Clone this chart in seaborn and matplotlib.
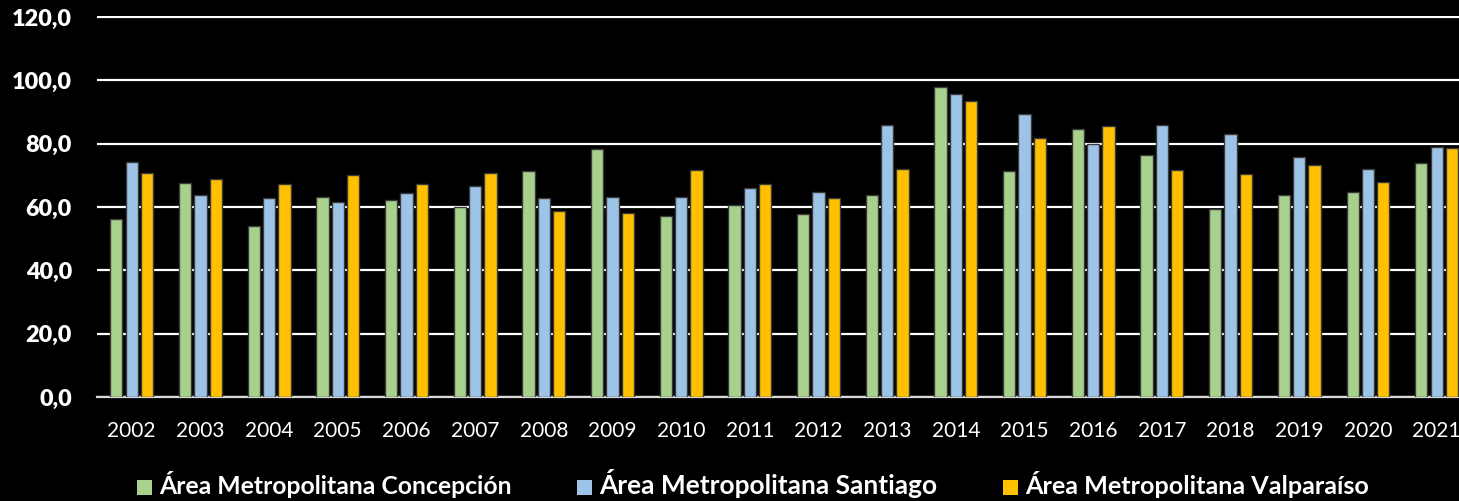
#!/usr/bin/env python3
"""
Bar chart: indicator by metropolitan area, 2002-2021
"""

import pandas as pd
import matplotlib
matplotlib.use('Agg')
import matplotlib.pyplot as plt
from matplotlib.patches import Patch
from matplotlib.ticker import FuncFormatter, MultipleLocator
import seaborn as sns

years = [str(y) for y in range(2002, 2022)]

concepcion = [56.2, 67.5, 54.0, 63.3, 62.3, 60.0, 71.4, 78.4, 57.0, 60.6,
              57.7, 63.7, 97.9, 71.4, 84.5, 76.4, 59.4, 63.9, 64.7, 74.0]
santiago = [74.2, 63.9, 62.9, 61.5, 64.3, 66.7, 62.9, 63.3, 63.3, 66.1,
            64.8, 86.0, 95.8, 89.4, 80.0, 85.9, 83.2, 75.8, 71.9, 78.8]
valparaiso = [70.7, 68.7, 67.4, 70.2, 67.2, 70.7, 58.8, 58.0, 71.6, 67.2,
              62.7, 71.9, 93.6, 81.7, 85.5, 71.6, 70.3, 73.4, 67.9, 78.6]

series_names = ['Área Metropolitana Concepción',
                'Área Metropolitana Santiago',
                'Área Metropolitana Valparaíso']
colors = ['#A9D18E', '#9DC3E6', '#FFC000']

df = pd.DataFrame({
    'year': years * 3,
    'value': concepcion + santiago + valparaiso,
    'area': [series_names[0]] * 20 + [series_names[1]] * 20 + [series_names[2]] * 20,
})

sns.set_style('dark')
plt.rcParams['font.family'] = ['Lato', 'DejaVu Sans']

fig = plt.figure(figsize=(14.59, 5.01), dpi=100, facecolor='black')
ax = fig.add_axes([97 / 1459, 104 / 501, 1374 / 1459, 381.3 / 501])
ax.set_facecolor('black')

sns.barplot(data=df, x='year', y='value', hue='area', hue_order=series_names,
            palette=colors, saturation=1, width=0.67, gap=0.2,
            edgecolor='#3a3a3a', linewidth=1, legend=False, ax=ax, zorder=3)

ax.set_xlim(-0.505, 19.5)
ax.set_ylim(0, 120.4)
ax.yaxis.set_major_locator(MultipleLocator(20))
ax.yaxis.set_major_formatter(FuncFormatter(lambda v, p: f"{v:.1f}".replace('.', ',')))

ax.grid(axis='y', color='white', linewidth=1.6, zorder=0)
ax.grid(axis='x', visible=False)
ax.set_axisbelow(True)
for side in ['top', 'right', 'left']:
    ax.spines[side].set_visible(False)
ax.spines['bottom'].set_color('#d9d9d9')
ax.spines['bottom'].set_linewidth(1.6)

ax.tick_params(axis='x', colors='white', labelsize=15, length=0, pad=17)
ax.tick_params(axis='y', colors='white', labelsize=16.8, length=0, pad=18)
ax.set_xlabel('')
ax.set_ylabel('')

fig.canvas.draw()
for lbl in ax.get_yticklabels():
    lbl.set_fontweight('heavy')

handles = [Patch(facecolor=c, edgecolor='none') for c in colors]
leg = fig.legend(handles, series_names, loc='center left',
                 bbox_to_anchor=(137 / 1459, 1 - 484 / 501), ncol=3,
                 frameon=False, fontsize=15, handlelength=0.72, handleheight=0.72,
                 handletextpad=0.34, columnspacing=3.15, borderpad=0, borderaxespad=0)
text_sizes = [17.8, 18.9, 18.1]
for t, s in zip(leg.get_texts(), text_sizes):
    t.set_color('white')
    t.set_fontweight('bold')
    t.set_fontsize(s)

fig.savefig('out.png', dpi=100, facecolor='black')
